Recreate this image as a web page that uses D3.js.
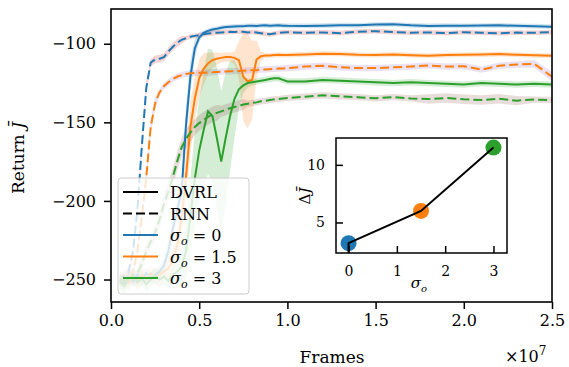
<!DOCTYPE html>
<html>
<head>
<meta charset="utf-8">
<script src="https://cdn.jsdelivr.net/npm/d3@7"></script>
<style>
  body { margin: 0; background: #fff; }
  svg { display: block; }
  text { font-family: "DejaVu Serif", serif; fill: #000; }
</style>
</head>
<body>
<div id="chart"></div>
<script>
// frames, in units of 1e7
const frames = [0.05, 0.075, 0.1, 0.125, 0.15, 0.175, 0.2, 0.225, 0.25, 0.275, 0.3, 0.325, 0.35, 0.375,
  0.4, 0.425, 0.45, 0.475, 0.5, 0.525, 0.55, 0.575, 0.6, 0.625, 0.65, 0.675, 0.7, 0.725, 0.75, 0.775, 0.8, 0.825,
  0.85, 0.875, 0.9, 0.925, 0.95, 0.975, 1.0, 1.1, 1.2, 1.3, 1.4, 1.5, 1.6, 1.7, 1.8, 1.9, 2.0, 2.1, 2.2, 2.3, 2.4, 2.5];

// mean return, DVRL
const dvrl0 = [-250, -253, -248, -251, -247, -250, -246, -249, -247, -245, -241, -232, -218, -206,
  -194, -152, -121, -103, -96, -93, -91.8, -91, -90.5, -89.8, -89.4, -89.2, -89, -88.9, -88.8, -88.6, -88.5, -88.7,
  -88.4, -88.3, -88.6, -88.4, -88.2, -88.5, -88.6, -88.7, -88.5, -88.2, -88.3, -87.8, -87.6, -88.3, -88.7, -88.5,
  -88.6, -88.4, -88.3, -88.6, -88.8, -89.2];
const dvrl15 = [-253, -249, -252, -248, -251, -247, -250, -246, -249, -247, -245, -243, -238, -228,
  -212, -185, -153, -135, -122, -116, -112.5, -110.5, -109.5, -109, -108.5, -108.5, -109, -110.5, -121, -124, -123,
  -110, -108, -107.5, -107.5, -107.2, -107, -107.2, -107.2, -106.8, -106.3, -106.5, -107, -107.2, -106.8, -107.3,
  -107.6, -107.2, -107, -106.9, -106.6, -107, -107.4, -107.6];
const dvrl3 = [-251, -254, -250, -247, -252, -249, -253, -250, -247, -250, -248, -251, -247, -245,
  -242, -232, -210, -186, -168, -155, -143, -146, -160, -175, -160, -146, -135, -129, -126.5, -125, -124.5, -124,
  -123.5, -123, -122.5, -122, -122, -123, -124, -124, -123, -123.5, -124, -124.5, -125, -124.5, -125, -125.5, -126,
  -125, -125.5, -126, -125.5, -126];

// mean return, RNN
const rnn0 = [-252, -247, -245, -232, -205, -165, -128, -112, -110, -109.5, -108.5, -105, -102, -99.5,
  -97.5, -96.5, -95.5, -95, -94.5, -94, -93.5, -93.2, -93, -92.8, -92.6, -92.4, -92.5, -92.3, -92.4, -92.8, -92.6,
  -92.8, -93.3, -93.8, -94, -93.5, -93, -92.8, -92.7, -93, -92.8, -93.3, -92.3, -92, -92.6, -93, -92.8, -93.2,
  -92.7, -93, -93.3, -92.9, -93, -92.7];
const rnn15 = [-248, -251, -249, -245, -232, -210, -185, -153, -138, -131, -127, -124.5, -122.5, -121,
  -120, -119.2, -118.8, -118.6, -118.5, -118.4, -118.3, -118.2, -118, -117.8, -117.6, -117.5, -117.4, -117.3, -117.2,
  -117, -116.8, -116.8, -116.5, -116.4, -116.2, -116, -115.8, -115.7, -115.6, -114.5, -114, -115, -115.5, -115.5,
  -115, -114.5, -113.8, -114.5, -114.3, -116.5, -114, -113.2, -112.8, -121];
const rnn3 = [-249, -251, -248, -250, -246, -240, -232, -226, -220, -212, -202, -194, -185, -175,
  -166, -160.5, -156.5, -153, -150.5, -148.5, -146.5, -145, -144, -143, -142, -141, -140.2, -139.5, -138.7, -138.2,
  -137.6, -137.3, -136.6, -136.3, -135.8, -135.4, -135.2, -134.8, -134.5, -133.7, -132.8, -133.5, -134, -134.7,
  -134, -134.8, -135.2, -134.5, -135.3, -135.8, -135, -136.2, -135.5, -135.8];

// half width of the shaded bands
const dvrl0Band = [4, 4, 4, 4, 4, 4, 4, 4, 4, 4, 4, 6, 6, 6, 6, 12, 10, 6, 3, 1.5, 1.5, 1.5, 1.5, 1.5, 1.5,
  1.5, 1.5, 1.5, 1.5, 1.5, 1.5, 1.5, 1.5, 1.5, 1.5, 1.5, 1.5, 1.5, 1.5, 1.5, 1.5, 1.5, 1.5, 1.5, 1.5, 1.5, 1.5, 1.5,
  1.5, 1.5, 1.5, 1.5, 1.5, 1.5];
const dvrl15Band = [5, 5, 5, 5, 5, 5, 5, 5, 5, 5, 5, 6, 8, 10, 14, 16, 16, 14, 12, 10, 7, 5, 4, 3, 3, 3, 4,
  12, 28, 30, 25, 12, 3, 1.5, 1.5, 1.5, 1.5, 1.5, 1.5, 1.5, 1.5, 1.5, 1.5, 1.5, 1.5, 1.5, 1.5, 1.5, 1.5, 1.5, 1.5,
  1.5, 1.5, 1.5];
const dvrl3Band = [5, 5, 5, 5, 5, 5, 5, 5, 5, 5, 5, 5, 5, 8, 12, 18, 24, 30, 33, 36, 40, 42, 45, 45, 42, 35,
  25, 12, 5, 3, 2, 2, 2, 2, 2, 2, 2, 2, 2, 2, 2, 2, 2, 2, 2, 2, 2, 2, 2, 2, 2, 2, 2, 2];
const rnn0Band = [3, 3, 3, 3, 4, 4, 4, 2.5, 2.5, 2.5, 2.5, 2.5, 2.5, 2.5, 2.5, 1.5, 1.5, 1.5, 1.5, 1.5, 1.5,
  1.5, 1.5, 1.5, 1.5, 1.5, 1.5, 1.5, 1.5, 1.5, 1.5, 1.5, 1.5, 1.5, 1.5, 1.5, 1.5, 1.5, 1.5, 1.5, 1.5, 1.5, 1.5, 1.5,
  1.5, 1.5, 1.5, 1.5, 1.5, 1.5, 1.5, 1.5, 1.5, 1.5];
const rnn15Band = [3, 3, 3, 3, 3, 4, 4, 4, 4, 2, 2, 2, 2, 2, 2, 2, 2, 2, 2, 2, 2, 2, 2, 2, 2, 2, 2, 2, 2, 2,
  2, 2, 2, 2, 2, 2, 2, 2, 2, 2, 2, 2, 2, 2, 2, 2, 2, 2, 2, 2, 2, 2, 2.5, 3];
const rnn3Band = [3, 3, 3, 3, 3, 5, 5, 5, 5, 6, 6, 6, 6, 6, 6, 6, 6, 5, 5, 5, 5, 5, 5, 3.5, 3.5, 3.5, 3.5,
  3.5, 3.5, 2, 2, 2, 2, 2, 2, 2, 2, 2, 2, 2, 2, 2, 2, 2, 2, 2, 3, 3, 3, 3, 3, 3, 2, 2];

// inset
const sigmas = [0, 1.5, 3];
const deltaJ = [3.2, 6.0, 11.5];
const lineSigma = [0, 0, 1.5, 3];
const lineDelta = [2.0, 3.2, 6.0, 11.5];

const xTicks = [0, 0.5, 1.0, 1.5, 2.0, 2.5];
const yTicks = [-250, -200, -150, -100];
const insetXTicks = [0, 1, 2, 3];
const insetYTicks = [5, 10];

const C0 = '#1f77b4', C1 = '#ff7f0e', C2 = '#2ca02c', C3 = '#d62728', C4 = '#9467bd', C5 = '#8c564b';

const width = 569, height = 367;
const svg = d3.select('#chart').append('svg')
  .attr('width', width)
  .attr('height', height);

const x = d3.scaleLinear().domain([0, 2.5]).range([111, 552]);
const y = d3.scaleLinear().domain([-264.3, -77.9]).range([302, 9]);

svg.append('clipPath').attr('id', 'mainclip')
  .append('rect')
  .attr('x', 111).attr('y', 9)
  .attr('width', 441).attr('height', 293);

const plot = svg.append('g').attr('clip-path', 'url(#mainclip)');

const series = [
  { vals: dvrl0, band: dvrl0Band, color: C0, fill: C0, dash: null },
  { vals: rnn0, band: rnn0Band, color: C0, fill: C3, dash: '9,4' },
  { vals: dvrl15, band: dvrl15Band, color: C1, fill: C1, dash: null },
  { vals: rnn15, band: rnn15Band, color: C1, fill: C4, dash: '9,4' },
  { vals: dvrl3, band: dvrl3Band, color: C2, fill: C2, dash: null },
  { vals: rnn3, band: rnn3Band, color: C2, fill: C5, dash: '9,4' }
];

const area = d3.area()
  .x((d, i) => x(frames[i]))
  .y0((d, i) => y(d.v - d.b))
  .y1((d, i) => y(d.v + d.b));

const line = d3.line()
  .x((d, i) => x(frames[i]))
  .y(d => y(d.v));

series.forEach(s => {
  const pts = s.vals.map((v, i) => ({ v: v, b: s.band[i] }));
  plot.append('path')
    .attr('d', area(pts))
    .style('fill', s.fill)
    .style('fill-opacity', 0.2)
    .style('stroke', 'none');
});

series.forEach(s => {
  const pts = s.vals.map((v, i) => ({ v: v, b: s.band[i] }));
  plot.append('path')
    .attr('d', line(pts))
    .style('fill', 'none')
    .style('stroke', s.color)
    .style('stroke-width', 2)
    .style('stroke-dasharray', s.dash);
});

// axes
const xAxis = d3.axisBottom(x).tickValues(xTicks).tickSize(7).tickPadding(6).tickFormat(d3.format('.1f'));
const gX = svg.append('g').attr('transform', 'translate(0,302)').call(xAxis);
const yAxis = d3.axisLeft(y).tickValues(yTicks).tickSize(7).tickPadding(8).tickFormat(d => '\u2212' + Math.abs(d));
const gY = svg.append('g').attr('transform', 'translate(111,0)').call(yAxis);

[gX, gY].forEach(g => {
  g.select('.domain').remove();
  g.selectAll('.tick line').style('stroke', '#000').style('stroke-width', 1.5);
  g.selectAll('.tick text').style('font-size', '16px').style('font-family', '"DejaVu Serif", serif').style('fill', '#000');
});

svg.append('rect')
  .attr('x', 111).attr('y', 9)
  .attr('width', 441).attr('height', 293)
  .style('fill', 'none').style('stroke', '#000').style('stroke-width', 1.6);

svg.append('text')
  .attr('x', 332).attr('y', 363)
  .attr('text-anchor', 'middle')
  .style('font-size', '17px')
  .text('Frames');

const mult = svg.append('text')
  .attr('x', 505).attr('y', 362)
  .style('font-size', '16px');
mult.append('tspan').text('\u00d710');
mult.append('tspan').attr('dy', -7).style('font-size', '12px').text('7');

const ylab = svg.append('text')
  .attr('transform', 'translate(24,158) rotate(-90)')
  .attr('text-anchor', 'middle')
  .style('font-size', '17px');
ylab.append('tspan').text('Return ');
ylab.append('tspan').style('font-style', 'italic').text('J\u0304');

// legend
const legend = svg.append('g');
legend.append('rect')
  .attr('x', 118).attr('y', 178)
  .attr('width', 131).attr('height', 116)
  .attr('rx', 3)
  .style('fill', '#fff').style('fill-opacity', 0.8)
  .style('stroke', '#cccccc').style('stroke-width', 1);

const legendItems = [
  { label: 'DVRL', color: '#000', dash: null },
  { label: 'RNN', color: '#000', dash: '9,4' },
  { label: '0', color: C0, dash: null, sigma: true },
  { label: '1.5', color: C1, dash: null, sigma: true },
  { label: '3', color: C2, dash: null, sigma: true }
];

legendItems.forEach((d, i) => {
  const cy = 192 + i * 21.5;
  legend.append('line')
    .attr('x1', 123).attr('x2', 158)
    .attr('y1', cy).attr('y2', cy)
    .style('stroke', d.color).style('stroke-width', 2)
    .style('stroke-dasharray', d.dash);
  const t = legend.append('text')
    .attr('x', 170).attr('y', cy + 6)
    .style('font-size', '16px');
  if (d.sigma) {
    t.append('tspan').style('font-style', 'italic').text('\u03c3');
    t.append('tspan').attr('dy', 4).style('font-style', 'italic').style('font-size', '11px').text('o');
    t.append('tspan').attr('dy', -4).text(' = ' + d.label);
  } else {
    t.text(d.label);
  }
});

// inset
const ix = d3.scaleLinear().domain([-0.26, 3.28]).range([336, 507]);
const iy = d3.scaleLinear().domain([2.35, 12.33]).range([253, 138]);

const inset = svg.append('g');
inset.append('rect')
  .attr('x', 336).attr('y', 138)
  .attr('width', 171).attr('height', 115)
  .style('fill', '#fff');

inset.append('clipPath').attr('id', 'insetclip')
  .append('rect')
  .attr('x', 336).attr('y', 138)
  .attr('width', 171).attr('height', 115);

const insetPlot = inset.append('g').attr('clip-path', 'url(#insetclip)');

insetPlot.selectAll('circle')
  .data(sigmas)
  .enter()
  .append('circle')
  .attr('cx', d => ix(d))
  .attr('cy', (d, i) => iy(deltaJ[i]))
  .attr('r', 8)
  .style('fill', (d, i) => [C0, C1, C2][i]);

insetPlot.append('path')
  .attr('d', d3.line().x(d => ix(d[0])).y(d => iy(d[1]))(lineSigma.map((s, i) => [s, lineDelta[i]])))
  .style('fill', 'none')
  .style('stroke', '#000')
  .style('stroke-width', 2);

const ixAxis = d3.axisBottom(ix).tickValues(insetXTicks).tickSize(-7).tickPadding(13).tickFormat(d3.format('d'));
const gIX = inset.append('g').attr('transform', 'translate(0,253)').call(ixAxis);
const iyAxis = d3.axisLeft(iy).tickValues(insetYTicks).tickSize(-7).tickPadding(11).tickFormat(d3.format('d'));
const gIY = inset.append('g').attr('transform', 'translate(336,0)').call(iyAxis);

[gIX, gIY].forEach(g => {
  g.select('.domain').remove();
  g.selectAll('.tick line').style('stroke', '#000').style('stroke-width', 1.5);
  g.selectAll('.tick text').style('font-size', '14px').style('font-family', '"DejaVu Serif", serif').style('fill', '#000');
});

inset.append('rect')
  .attr('x', 336).attr('y', 138)
  .attr('width', 171).attr('height', 115)
  .style('fill', 'none').style('stroke', '#000').style('stroke-width', 1.5);

const isl = inset.append('text')
  .attr('x', 419).attr('y', 288)
  .attr('text-anchor', 'middle')
  .style('font-size', '15px');
isl.append('tspan').style('font-style', 'italic').text('\u03c3');
isl.append('tspan').attr('dy', 4).style('font-style', 'italic').style('font-size', '10px').text('o');

const idl = inset.append('text')
  .attr('transform', 'translate(310,196) rotate(-90)')
  .attr('text-anchor', 'middle')
  .style('font-size', '15px');
idl.append('tspan').text('\u0394');
idl.append('tspan').style('font-style', 'italic').text('J\u0304');
</script>
</body>
</html>
